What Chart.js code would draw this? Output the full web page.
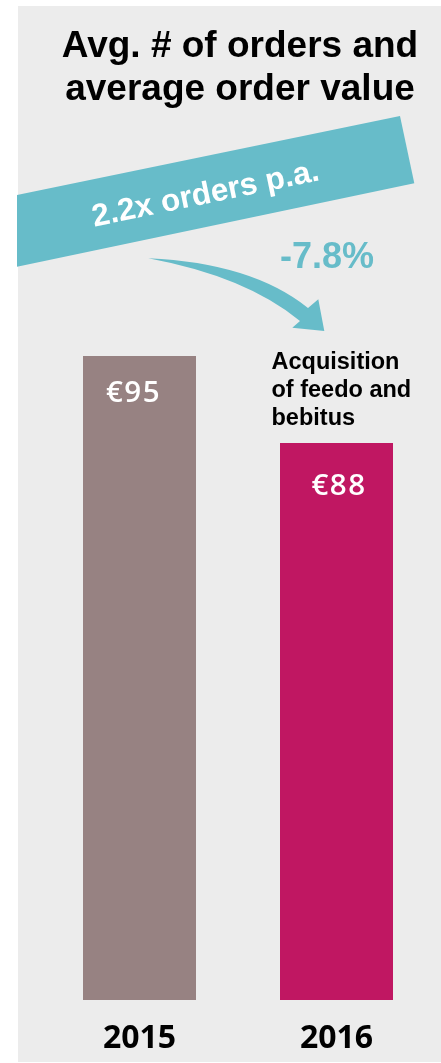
<!DOCTYPE html>
<html>
<head>
<meta charset="utf-8">
<script src="https://cdn.jsdelivr.net/npm/chart.js@4.4.1/dist/chart.umd.min.js"></script>
<style>
  html, body { margin: 0; padding: 0; background: #ffffff; overflow: hidden; }
  #wrap { position: relative; width: 441px; height: 1077px; }
</style>
</head>
<body>
<div id="wrap"><canvas id="c"></canvas></div>
<script>
// ---- data ----
const categories = ['2015', '2016'];
const avgOrderValue = [95, 88];
const valueLabels = ['€95', '€88'];
const barColors = ['#978282', '#c01762'];
const titleLines = ['Avg. # of orders and', 'average order value'];
const bannerText = '2.2x orders p.a.';
const changeText = '-7.8%';
const noteLines = ['Acquisition', 'of feedo and', 'bebitus'];

const TEAL = '#67bcc9';

const decor = {
  id: 'decor',
  beforeDraw(chart) {
    const ctx = chart.ctx;
    ctx.save();
    ctx.fillStyle = '#ffffff';
    ctx.fillRect(0, 0, chart.width, chart.height);
    ctx.fillStyle = '#ececec';
    ctx.fillRect(18, 6, 423, 1056);
    ctx.restore();
  },
  afterDatasetsDraw(chart) {
    const ctx = chart.ctx;
    ctx.save();
    // title
    ctx.fillStyle = '#000000';
    ctx.font = 'bold 37px "Liberation Sans", Arial, sans-serif';
    ctx.textAlign = 'center';
    ctx.textBaseline = 'alphabetic';
    ctx.fillText(titleLines[0], 240, 57);
    ctx.fillText(titleLines[1], 240, 100);

    // banner
    ctx.fillStyle = TEAL;
    ctx.beginPath();
    ctx.moveTo(17, 195);
    ctx.lineTo(400, 116);
    ctx.lineTo(414.3, 183.3);
    ctx.lineTo(17, 266.7);
    ctx.closePath();
    ctx.fill();

    ctx.save();
    ctx.translate(207.5, 203.3);
    ctx.rotate(Math.atan2(-79, 383));
    ctx.fillStyle = '#ffffff';
    ctx.font = 'bold 31.5px "Liberation Sans", Arial, sans-serif';
    ctx.textAlign = 'center';
    ctx.textBaseline = 'alphabetic';
    ctx.fillText(bannerText, 0, 0);
    ctx.restore();

    // change text
    ctx.fillStyle = TEAL;
    ctx.font = 'bold 36px "Liberation Sans", Arial, sans-serif';
    ctx.textAlign = 'center';
    ctx.fillText(changeText, 327, 268);

    // curved arrow
    ctx.beginPath();
    ctx.moveTo(148.3, 258.3);
    ctx.quadraticCurveTo(252, 263, 308, 308);
    ctx.lineTo(318.3, 299.3);
    ctx.lineTo(324.3, 331);
    ctx.lineTo(292.3, 327.7);
    ctx.lineTo(300, 321);
    ctx.quadraticCurveTo(246, 276.5, 148.3, 258.3);
    ctx.closePath();
    ctx.fill();

    // note
    ctx.fillStyle = '#000000';
    ctx.font = 'bold 23.5px "Liberation Sans", Arial, sans-serif';
    ctx.textAlign = 'left';
    ctx.fillText(noteLines[0], 271.5, 369.3);
    ctx.fillText(noteLines[1], 271.5, 396.8);
    ctx.fillText(noteLines[2], 271.5, 425);

    // value labels inside bars
    const meta = chart.getDatasetMeta(0);
    const offY = [38, 43];
    const offX = [-6, 2.5];
    ctx.fillStyle = '#ffffff';
    ctx.font = '600 29.5px "Open Sans", sans-serif';
    ctx.textAlign = 'center';
    ctx.textBaseline = 'middle';
    try { ctx.letterSpacing = '1.5px'; } catch (e) {}
    meta.data.forEach((bar, i) => {
      ctx.fillText(valueLabels[i], bar.x + offX[i], bar.y + offY[i]);
    });
    ctx.restore();
  }
};

new Chart(document.getElementById('c'), {
  type: 'bar',
  data: {
    labels: categories,
    datasets: [{
      data: avgOrderValue,
      backgroundColor: barColors,
      borderWidth: 0,
      barPercentage: 1,
      categoryPercentage: 0.5736
    }]
  },
  options: {
    responsive: true,
    maintainAspectRatio: false,
    animation: false,
    events: [],
    layout: { padding: { left: 41, right: 6, top: 100, bottom: 0 } },
    plugins: { legend: { display: false }, tooltip: { enabled: false } },
    scales: {
      x: {
        grid: { display: false, drawTicks: false },
        border: { display: false },
        ticks: {
          color: '#000000',
          padding: 22.5,
          font: { family: '"Open Sans", sans-serif', size: 32, weight: 'bold', lineHeight: 1 }
        }
      },
      y: { display: false, min: 43.2, max: 115.6 }
    }
  },
  plugins: [decor]
});
</script>
</body>
</html>
